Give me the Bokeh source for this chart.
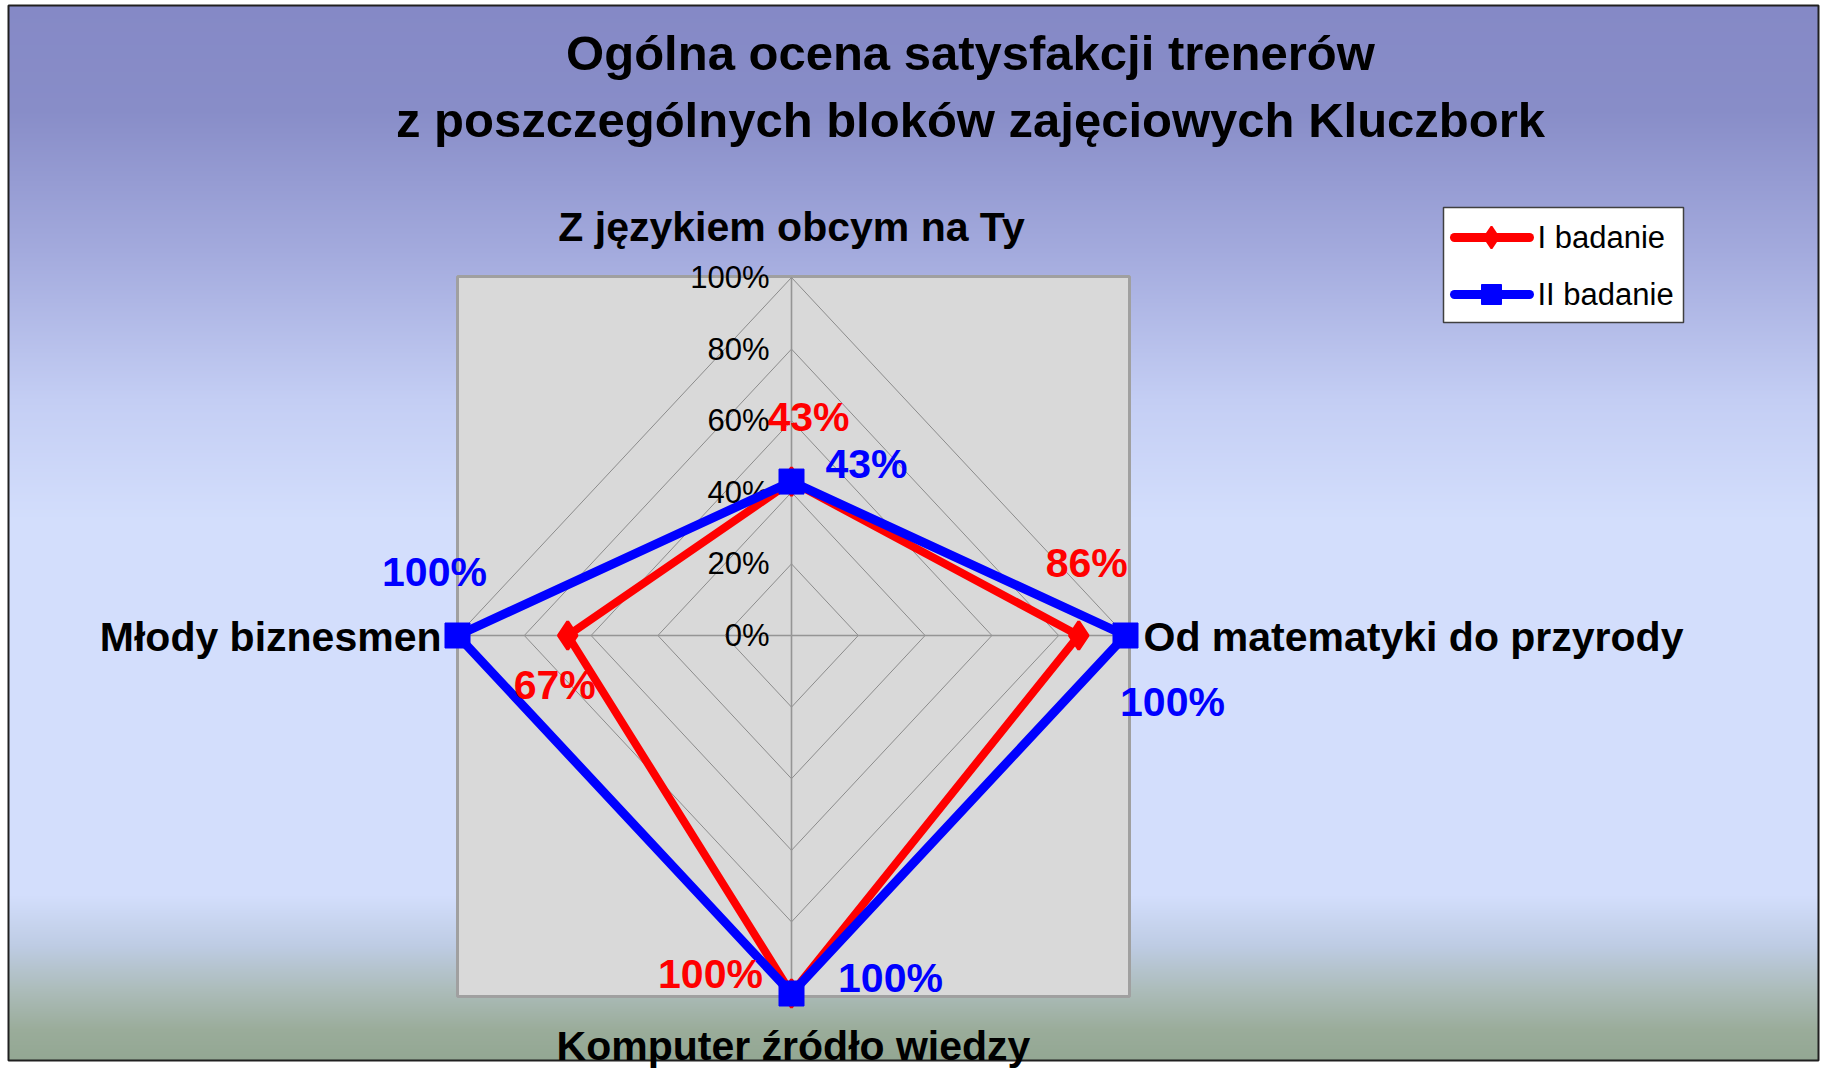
import numpy as np
from bokeh.plotting import figure
from bokeh.models import Range1d
from bokeh.core.properties import value
from bokeh.embed import file_html
from bokeh.resources import INLINE

# ---------------- data ----------------
title_lines = ["Ogólna ocena satysfakcji trenerów",
               "z poszczególnych bloków zajęciowych Kluczbork"]
categories = ["Z językiem obcym na Ty", "Od matematyki do przyrody",
              "Komputer źródło wiedzy", "Młody biznesmen"]
series_names = ["I badanie", "II badanie"]
badanie_1 = [43, 86, 100, 67]
badanie_2 = [43, 100, 100, 100]
tick_values = [0, 20, 40, 60, 80, 100]
tick_labels = ["0%", "20%", "40%", "60%", "80%", "100%"]

# ---------------- layout (page pixels) ----------------
PX0, PY0 = 0, 0
W, H = 1821, 1069
CX, CY = 791, 635          # radar centre
RX, RY = 334, 358          # radius of 100% horizontally / vertically
BG_L, BG_R, BG_T, BG_B = 8, 1818, 5, 1060

def dx(px):
    return (px - CX) / RX

def dy(py):
    return (CY - py) / RY

FONT = value("Liberation Sans")
RED, BLUE = "#FF0000", "#0000FF"

p = figure(width=W, height=H, output_backend="svg", toolbar_location=None,
           x_range=Range1d(dx(PX0), dx(PX0 + W)),
           y_range=Range1d(dy(PY0 + H), dy(PY0)),
           x_axis_type=None, y_axis_type=None, min_border=0,
           background_fill_color="white", border_fill_color="white")
p.grid.visible = False
p.outline_line_color = None

# ---------------- background gradient ----------------
stops = [(5, (133, 137, 198)), (110, (136, 141, 200)), (250, (163, 170, 221)),
         (400, (196, 206, 244)), (520, (211, 222, 252)), (895, (211, 222, 252)),
         (945, (190, 204, 228)), (990, (172, 188, 186)), (1030, (154, 172, 154)),
         (1060, (147, 167, 147))]
rows = BG_B - BG_T
sy = np.array([s[0] for s in stops], dtype=float)
cols = np.array([s[1] for s in stops], dtype=float)
img = np.zeros((rows, 2, 4), dtype=np.uint8)
for i in range(rows):
    py = BG_B - i - 0.5
    for c in range(3):
        img[i, :, c] = int(round(np.interp(py, sy, cols[:, c])))
    img[i, :, 3] = 255
img32 = img.view(np.uint32).reshape(rows, 2)
p.image_rgba(image=[img32], x=dx(BG_L), y=dy(BG_B), dw=dx(BG_R) - dx(BG_L),
             dh=dy(BG_T) - dy(BG_B))
# chart border
p.quad(left=dx(BG_L), right=dx(BG_R), top=dy(BG_T), bottom=dy(BG_B),
       fill_color=None, line_color="#202020", line_width=2)

# ---------------- plot area ----------------
p.quad(left=dx(457), right=dx(1129), top=dy(276), bottom=dy(996),
       fill_color="#D9D9D9", line_color="#A0A0A0", line_width=3)

n = len(categories)
theta = np.arange(n) * 2 * np.pi / n
sin_t = np.round(np.sin(theta), 9)
cos_t = np.round(np.cos(theta), 9)

# grid rings
for tv in tick_values[1:]:
    r = tv / 100.0
    xs = list(r * sin_t) + [r * sin_t[0]]
    ys = list(r * cos_t) + [r * cos_t[0]]
    p.line(xs, ys, line_color="#8C8C8C", line_width=1)
# spokes
for k in range(n):
    p.line([0, sin_t[k]], [0, cos_t[k]], line_color="#959595", line_width=1.6)

# tick labels
p.text(x=[0] * len(tick_values), y=[tv / 100.0 for tv in tick_values],
       text=tick_labels, x_offset=-22, text_align="right", text_baseline="middle",
       text_font=FONT, text_font_size="31px", text_color="black")

# ---------------- series ----------------
def pts(vals):
    r = np.array(vals) / 100.0
    return list(r * sin_t), list(r * cos_t)

x1, y1 = pts(badanie_1)
x2, y2 = pts(badanie_2)

p.line(x1 + [x1[0]], y1 + [y1[0]], line_color=RED, line_width=8, line_join="round")
p.scatter(x1, y1, marker="diamond", size=28, fill_color=RED, line_color=RED, line_width=3)
p.line(x2 + [x2[0]], y2 + [y2[0]], line_color=BLUE, line_width=9, line_join="round")
p.scatter(x2, y2, marker="square", size=25, fill_color=BLUE, line_color=BLUE)

# data labels
off1 = [(17, -65), (8, -73), (-81, -20), (-13, 49)]
off2 = [(75, -18), (47, 66), (99, -16), (-23, -64)]
for xs, ys, vals, offs, col in [(x1, y1, badanie_1, off1, RED), (x2, y2, badanie_2, off2, BLUE)]:
    for xi, yi, v, (ox, oy) in zip(xs, ys, vals, offs):
        p.text(x=[xi], y=[yi], text=[f"{v}%"], x_offset=ox, y_offset=oy,
               text_align="center", text_baseline="middle", text_font=FONT,
               text_font_style="bold", text_font_size="41px", text_color=col)

# category labels
cat_offs = [(0, -51, "center"), (18, 1, "left"), (2, 52, "center"), (-16, 1, "right")]
for k, (lab, (ox, oy, al)) in enumerate(zip(categories, cat_offs)):
    p.text(x=[sin_t[k]], y=[cos_t[k]], text=[lab], x_offset=ox, y_offset=oy,
           text_align=al, text_baseline="middle", text_font=FONT,
           text_font_style="bold", text_font_size="41px", text_color="black")

# ---------------- title ----------------
for line, mid in zip(title_lines, [52, 119]):
    p.text(x=[dx(970)], y=[dy(mid)], text=[line], text_align="center",
           text_baseline="middle", text_font=FONT, text_font_style="bold",
           text_font_size="49px", text_color="black")

# ---------------- legend ----------------
p.quad(left=dx(1443), right=dx(1683), top=dy(207), bottom=dy(322),
       fill_color="white", line_color="#404040", line_width=1.5)
leg_rows = [237, 294]
for name, row, col, mk, ms in zip(series_names, leg_rows, [RED, BLUE],
                                  ["diamond", "square"], [22, 20]):
    p.line([dx(1454), dx(1529)], [dy(row), dy(row)], line_color=col, line_width=9,
           line_cap="round")
    p.scatter([dx(1491)], [dy(row)], marker=mk, size=ms, fill_color=col,
              line_color=col, line_width=2 if mk == "diamond" else 1)
    p.text(x=[dx(1537)], y=[dy(row)], text=[name], text_align="left",
           text_baseline="middle", text_font=FONT, text_font_size="31px",
           text_color="black")

open("out.html", "w").write(file_html(p, INLINE))
